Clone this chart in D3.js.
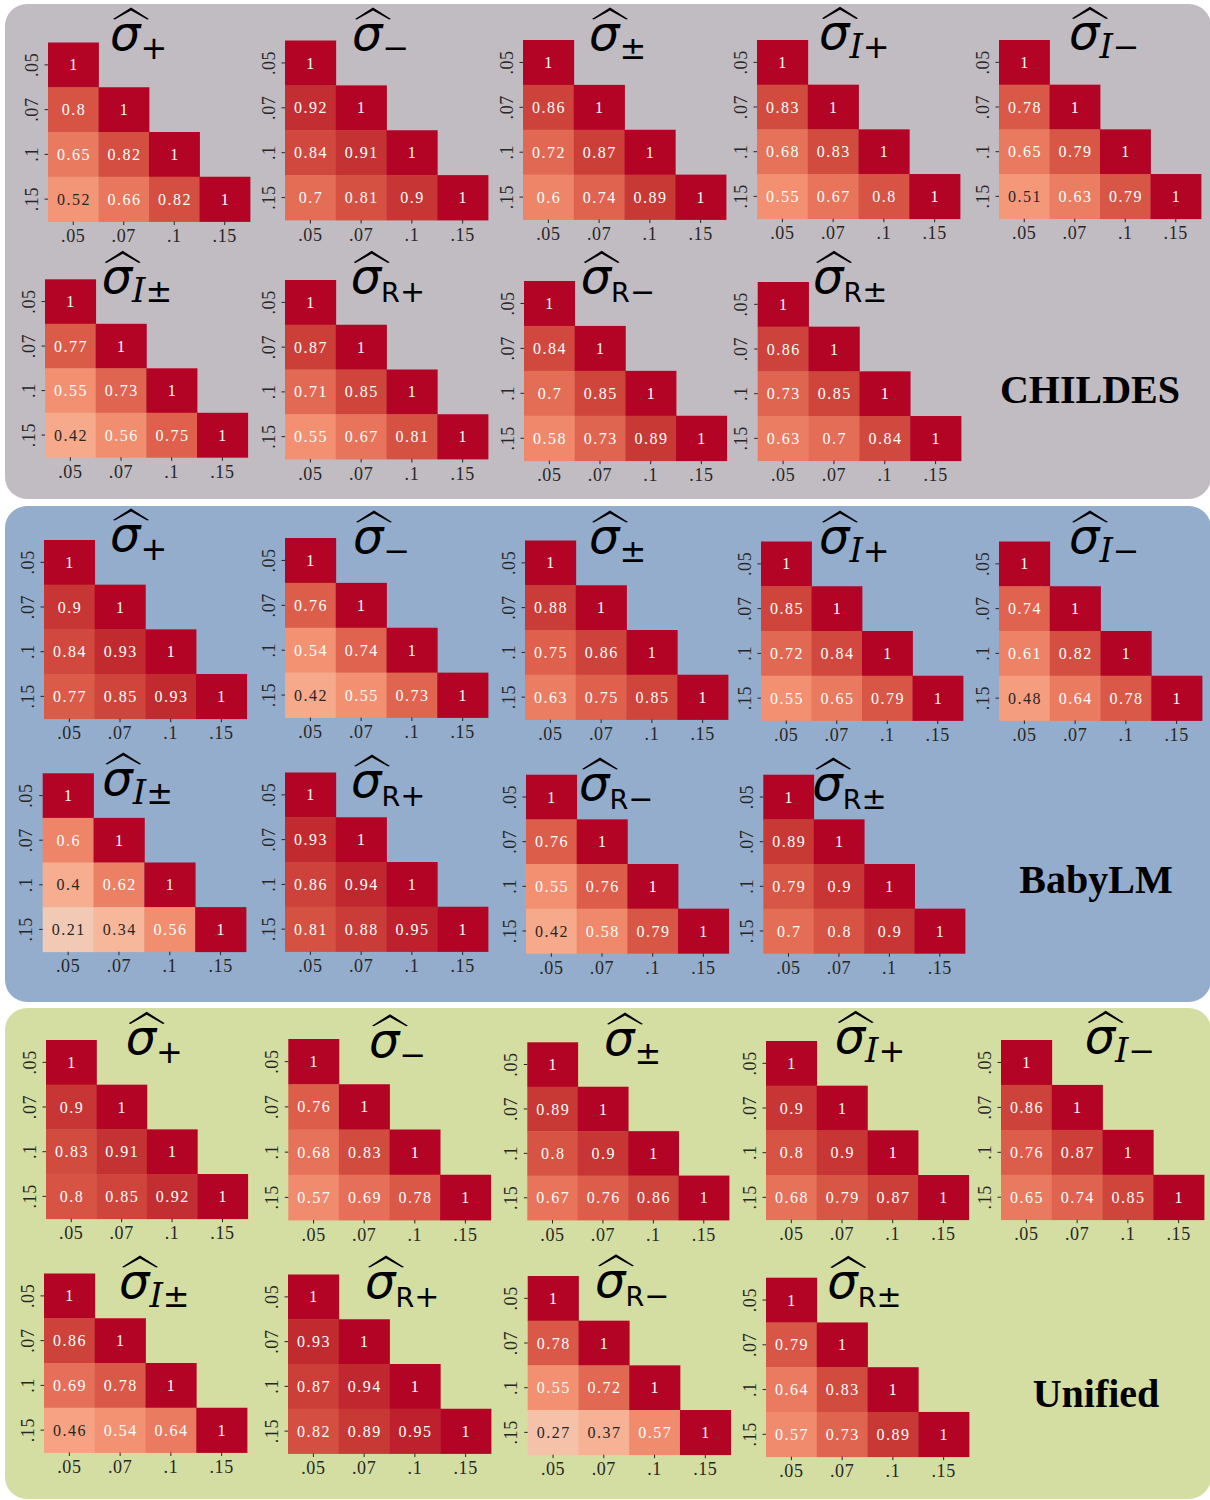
<!DOCTYPE html>
<html><head><meta charset="utf-8">
<script src="https://cdn.jsdelivr.net/npm/d3@7"></script>
<style>body{margin:0;background:#fff}</style>
</head><body><svg id="chart" width="1210" height="1500"></svg>
<script>
// ---------- data ----------
const thresholds = [".05", ".07", ".1", ".15"];
const metrics = ["+", "\u2212", "\u00b1", "I+", "I\u2212", "I\u00b1", "R+", "R\u2212", "R\u00b1"];
const corpora = ["CHILDES", "BabyLM", "Unified"];
// lower-triangle correlations in order: (.07,.05), (.1,.05), (.1,.07), (.15,.05), (.15,.07), (.15,.1)
const childesValues = [
  [0.8, 0.65, 0.82, 0.52, 0.66, 0.82],
  [0.92, 0.84, 0.91, 0.7, 0.81, 0.9],
  [0.86, 0.72, 0.87, 0.6, 0.74, 0.89],
  [0.83, 0.68, 0.83, 0.55, 0.67, 0.8],
  [0.78, 0.65, 0.79, 0.51, 0.63, 0.79],
  [0.77, 0.55, 0.73, 0.42, 0.56, 0.75],
  [0.87, 0.71, 0.85, 0.55, 0.67, 0.81],
  [0.84, 0.7, 0.85, 0.58, 0.73, 0.89],
  [0.86, 0.73, 0.85, 0.63, 0.7, 0.84]
];
const babylmValues = [
  [0.9, 0.84, 0.93, 0.77, 0.85, 0.93],
  [0.76, 0.54, 0.74, 0.42, 0.55, 0.73],
  [0.88, 0.75, 0.86, 0.63, 0.75, 0.85],
  [0.85, 0.72, 0.84, 0.55, 0.65, 0.79],
  [0.74, 0.61, 0.82, 0.48, 0.64, 0.78],
  [0.6, 0.4, 0.62, 0.21, 0.34, 0.56],
  [0.93, 0.86, 0.94, 0.81, 0.88, 0.95],
  [0.76, 0.55, 0.76, 0.42, 0.58, 0.79],
  [0.89, 0.79, 0.9, 0.7, 0.8, 0.9]
];
const unifiedValues = [
  [0.9, 0.83, 0.91, 0.8, 0.85, 0.92],
  [0.76, 0.68, 0.83, 0.57, 0.69, 0.78],
  [0.89, 0.8, 0.9, 0.67, 0.76, 0.86],
  [0.9, 0.8, 0.9, 0.68, 0.79, 0.87],
  [0.86, 0.76, 0.87, 0.65, 0.74, 0.85],
  [0.86, 0.69, 0.78, 0.46, 0.54, 0.64],
  [0.93, 0.87, 0.94, 0.82, 0.89, 0.95],
  [0.78, 0.55, 0.72, 0.27, 0.37, 0.57],
  [0.79, 0.64, 0.83, 0.57, 0.73, 0.89]
];
const allValues = [childesValues, babylmValues, unifiedValues];

// ---------- layout / style ----------
const panelBoxes = [[5, 4, 1206, 495], [5, 506, 1206, 496], [5, 1008, 1206, 491]];
const panelColors = ["#c1bbc2", "#95adcc", "#d4dea2"];
const labelPos = [[1090, 403], [1096, 893], [1096, 1407]];
// cell grid boxes [left, top, right, bottom]
const gridBoxes = [
  [[48,42.5,250,221.5],[285,40.5,488,220],[523,40,726,219.5],[757,40,960,218.7],[999,40,1201,218.7],
   [45,279.3,247.7,457.3],[285,280,488,459],[524,281,726.7,460.7],[757.7,282,961,460.7]],
  [[44,540,246.7,718.7],[285,538,488,717.5],[525,540.5,728,719.5],[761,541.5,963,720.5],[999,541.5,1202,720.5],
   [42.7,773.3,246,951.7],[285,772.5,488,951.5],[526,774.7,728.7,953.3],[763.3,774.7,965,953.3]],
  [[46,1040,247.7,1218.7],[288.3,1039,490.7,1220],[527.3,1042.3,729,1220],[766,1041,968.7,1219.7],[1001,1040,1204,1219.7],
   [44,1273.5,247,1452.5],[288,1274.5,491,1453.5],[527.7,1276,730.7,1454.7],[766,1277.7,969,1456.7]]
];
// title: [sigma left x, baseline y]
const titlePos = [
  [[110,50],[352,50],[589,50],[819,49.3],[1069,49.3],[101.7,293.3],[350.7,293.3],[580.7,293.3],[813,293.3]],
  [[110,551],[353,553],[589,553],[819,553],[1069,553],[102.3,795],[351,797],[579,800],[812.3,800]],
  [[125.7,1054.3],[369,1056.7],[604,1055],[834.7,1053.3],[1084.7,1053.3],[119,1298],[365,1298],[595,1296.7],[827.3,1298.3]]
];

// coolwarm (upper half) colour map, vmin=-1, vmax=1
const coolwarmUpper = [
  [0.5, 0.865395197, 0.86541021, 0.865395561],
  [0.53125, 0.897787179, 0.848937047, 0.820880546],
  [0.5625, 0.924127593, 0.827384882, 0.774508472],
  [0.59375, 0.944468518, 0.800927443, 0.726736146],
  [0.625, 0.958852946, 0.769767752, 0.678007945],
  [0.65625, 0.96732803, 0.734132809, 0.628751763],
  [0.6875, 0.969954137, 0.694266682, 0.579375448],
  [0.71875, 0.966811177, 0.650421156, 0.530263762],
  [0.75, 0.958003065, 0.602842431, 0.481775914],
  [0.78125, 0.943660866, 0.551750968, 0.434243684],
  [0.8125, 0.923944917, 0.49730856, 0.387970225],
  [0.84375, 0.89904617, 0.439559467, 0.343229596],
  [0.875, 0.869186849, 0.378313092, 0.300267182],
  [0.90625, 0.834620542, 0.312874446, 0.259301199],
  [0.9375, 0.795631745, 0.24128379, 0.220525627],
  [0.96875, 0.752534934, 0.157246067, 0.184115123],
  [1.0, 0.705673158, 0.01555616, 0.150232812]
];
const color = d3.scaleLinear()
  .domain(coolwarmUpper.map(s => -1 + 2 * s[0]))
  .range(coolwarmUpper.map(s => d3.rgb(s[1] * 255, s[2] * 255, s[3] * 255).formatHex()))
  .interpolate(d3.interpolateRgb)
  .clamp(true);

function relLum(c) {
  const r = d3.rgb(c);
  const f = v => { v /= 255; return v <= 0.03928 ? v / 12.92 : Math.pow((v + 0.055) / 1.055, 2.4); };
  return 0.2126 * f(r.r) + 0.7152 * f(r.g) + 0.0722 * f(r.b);
}

const svg = d3.select("#chart");
const serif = "'Liberation Serif', 'Times New Roman', serif";
const sans = "'DejaVu Sans', sans-serif";

corpora.forEach((name, p) => {
  const [bx, by, bw, bh] = panelBoxes[p];
  svg.append("rect").attr("x", bx).attr("y", by).attr("width", bw).attr("height", bh)
    .attr("rx", 22).attr("ry", 22).attr("fill", panelColors[p]);
  svg.append("text").attr("x", labelPos[p][0]).attr("y", labelPos[p][1])
    .attr("text-anchor", "middle").attr("font-family", serif).attr("font-weight", "bold")
    .attr("font-size", 40).attr("fill", "#000").text(name);

  allValues[p].forEach((lower, m) => {
    const [l, t, r, b] = gridBoxes[p][m];
    const x = d3.scaleBand().domain(thresholds).range([l, r]);
    const y = d3.scaleBand().domain(thresholds).range([t, b]);
    const cells = [];
    let k = 0;
    thresholds.forEach((ri, i) => {
      thresholds.forEach((cj, j) => {
        if (j < i) cells.push({ row: ri, col: cj, v: lower[k++] });
        else if (j === i) cells.push({ row: ri, col: cj, v: 1 });
      });
    });
    const g = svg.append("g");
    g.selectAll("rect.cell").data(cells).join("rect")
      .attr("x", d => x(d.col)).attr("y", d => y(d.row))
      .attr("width", x.bandwidth() + 0.4).attr("height", y.bandwidth() + 0.4)
      .attr("fill", d => color(d.v));
    g.selectAll("text.ann").data(cells).join("text")
      .attr("x", d => x(d.col) + x.bandwidth() / 2 + 0.7)
      .attr("y", d => y(d.row) + y.bandwidth() / 2)
      .attr("dy", "0.35em")
      .attr("text-anchor", "middle")
      .attr("font-family", serif).attr("font-size", 16)
      .attr("letter-spacing", "1.5px")
      .attr("fill", d => relLum(color(d.v)) > 0.408 ? "#262626" : "#ffffff")
      .text(d => String(d.v));

    // axes
    const ax = g.append("g").attr("transform", `translate(0,${b})`)
      .call(d3.axisBottom(x).tickSize(3.5).tickPadding(0));
    ax.select(".domain").remove();
    ax.selectAll("line").attr("stroke", "#262626").attr("stroke-width", 1);
    ax.selectAll("text").attr("y", 20.5).attr("dy", "0").attr("font-family", serif)
      .attr("font-size", 18).attr("letter-spacing", "0.6px").attr("fill", "#262626");
    const ay = g.append("g").attr("transform", `translate(${l},0)`)
      .call(d3.axisLeft(y).tickSize(3.5).tickPadding(0));
    ay.select(".domain").remove();
    ay.selectAll("line").attr("stroke", "#262626").attr("stroke-width", 1);
    ay.selectAll("text").attr("x", 0).attr("y", -10.5).attr("dy", "0")
      .attr("transform", "rotate(-90)").attr("text-anchor", "middle")
      .attr("font-family", serif).attr("font-size", 18).attr("letter-spacing", "0.6px")
      .attr("fill", "#262626");

    // title  \widehat{\sigma}_{metric}
    const [sx, sb] = titlePos[p][m];
    const title = g.append("text").attr("x", sx).attr("y", sb).attr("fill", "#000");
    title.append("tspan").attr("font-family", sans).attr("font-style", "italic")
      .attr("font-size", 48).text("\u03c3");
    const metric = metrics[m];
    const sub = title.append("tspan").attr("dy", 9);
    if (metric[0] === "I") {
      sub.append("tspan").attr("font-family", "'DejaVu Serif', serif").attr("font-style", "italic")
        .attr("font-size", 34).text("I");
      sub.append("tspan").attr("font-family", sans).attr("font-size", 32).text(metric.slice(1));
    } else if (metric[0] === "R") {
      sub.append("tspan").attr("font-family", sans).attr("font-size", 27).text("R");
      sub.append("tspan").attr("font-family", sans).attr("font-size", 30).text(metric.slice(1));
    } else {
      sub.append("tspan").attr("font-family", sans).attr("font-size", 32).text(metric);
    }
    // wide hat
    const hat = d3.path();
    hat.moveTo(sx + 3, sb - 31);
    hat.lineTo(sx + 21, sb - 42.5);
    hat.lineTo(sx + 39, sb - 31);
    hat.lineTo(sx + 37.2, sb - 30.4);
    hat.lineTo(sx + 21, sb - 39.5);
    hat.lineTo(sx + 4.8, sb - 30.4);
    hat.closePath();
    g.append("path").attr("d", hat.toString()).attr("fill", "#000");
  });
});
</script>
</body></html>
